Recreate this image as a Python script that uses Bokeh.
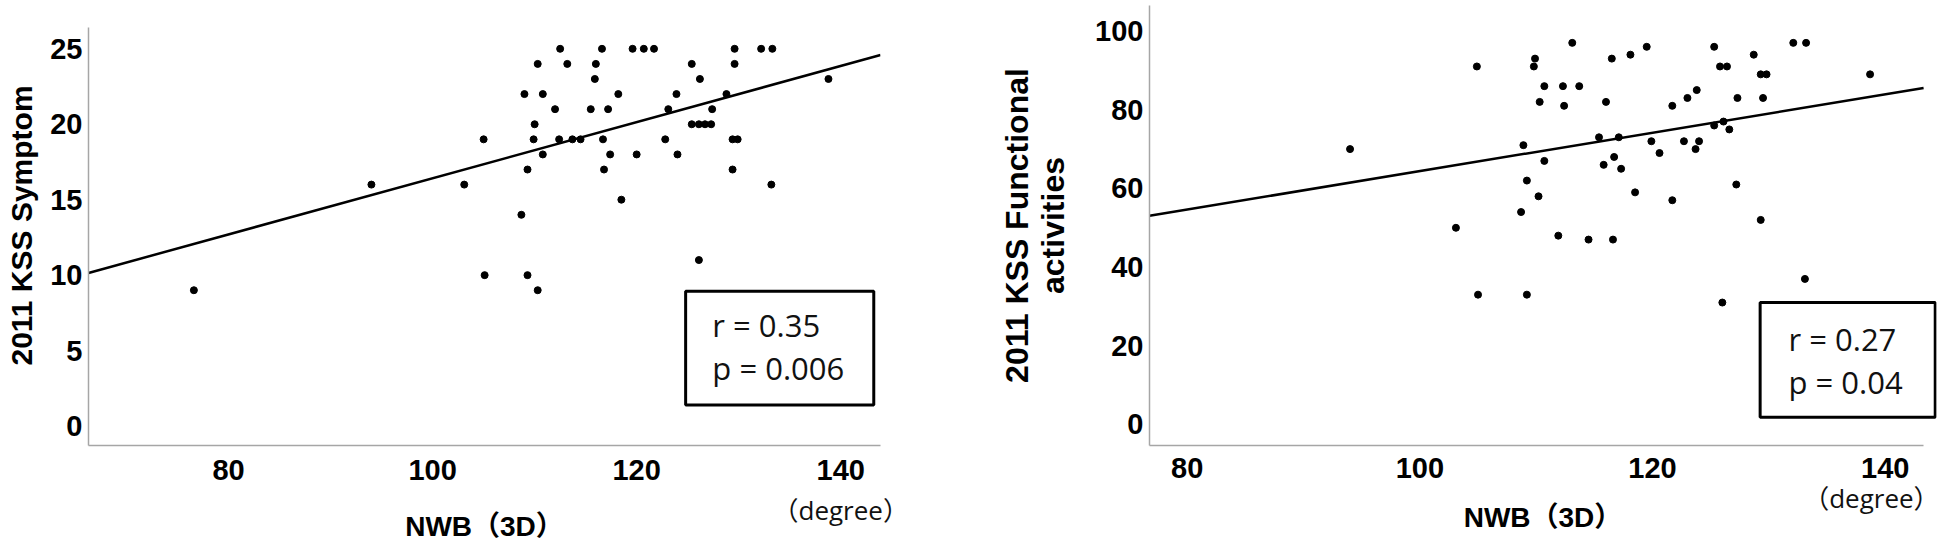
from bokeh.plotting import figure
from bokeh.layouts import row
from bokeh.models import FixedTicker, BoxAnnotation, Label, Range1d, LinearAxis
from bokeh.embed import file_html
from bokeh.resources import INLINE

# ---------------- data: left panel (2011 KSS Symptom) ----------------
nwb_sym = [112.5, 116.6, 119.6, 120.7, 121.7, 129.6, 132.2, 133.3,
           110.3, 113.2, 116.0, 125.4, 129.6,
           115.9, 126.2, 138.8,
           109.0, 110.8, 118.2, 123.9, 128.8,
           112.0, 115.5, 117.2, 123.1, 127.4,
           110.0, 125.4, 126.1, 126.7, 127.3,
           105.0, 109.9, 112.4, 113.7, 114.5, 116.7, 122.8, 129.4, 129.9,
           110.8, 117.4, 120.0, 124.0,
           109.3, 116.8, 129.4,
           94.0, 103.1, 133.2,
           118.5,
           108.7,
           126.1,
           105.1, 109.3,
           76.6, 110.3]
kss_symptom = [25, 25, 25, 25, 25, 25, 25, 25,
               24, 24, 24, 24, 24,
               23, 23, 23,
               22, 22, 22, 22, 22,
               21, 21, 21, 21, 21,
               20, 20, 20, 20, 20,
               19, 19, 19, 19, 19, 19, 19, 19, 19,
               18, 18, 18, 18,
               17, 17, 17,
               16, 16, 16,
               15,
               14,
               11,
               10, 10,
               9, 9]

# ---------------- data: right panel (2011 KSS Functional activities) ----------------
nwb_func = [94.0, 103.1, 104.9, 105.0, 108.9, 108.7, 109.2, 109.2, 109.9, 109.8,
            110.2, 110.3, 110.7, 110.7, 111.9, 112.3, 112.4, 113.1, 113.7, 114.5,
            115.4, 115.8, 116.0, 116.5, 116.6, 116.7, 117.1, 117.3, 118.1, 118.5,
            119.5, 119.9, 120.6, 121.7, 121.7, 122.7, 123.0, 123.7, 123.8, 124.0,
            125.3, 125.3, 125.8, 126.4, 126.0, 126.1, 126.6, 127.2, 127.3, 128.7,
            129.3, 129.3, 129.8, 129.5, 132.1, 133.2, 133.1, 138.7]
kss_func = [70, 50, 91, 33, 71, 54, 62, 33, 93, 91,
            58, 82, 86, 67, 48, 86, 81, 97, 86, 47,
            73, 66, 82, 93, 47, 68, 73, 65, 94, 59,
            96, 72, 69, 81, 57, 72, 83, 70, 85, 72,
            96, 76, 91, 91, 31, 77, 75, 61, 83, 94,
            52, 89, 89, 83, 97, 97, 37, 89]

# regression lines (slope, intercept)
fit_sym = (0.186, -2.18)
fit_func = (0.4883, 15.57)

stats_sym = ["r = 0.35", "p = 0.006"]
stats_func = ["r = 0.27", "p = 0.04"]

x_ticks = [80, 100, 120, 140]
y_ticks_sym = [0, 5, 10, 15, 20, 25]
y_ticks_func = [0, 20, 40, 60, 80, 100]

x_title = "NWB（3D）"
unit_label = "（degree）"

BOLD_FONT = "Liberation Sans, Noto Sans CJK JP"
TEXT_FONT = "Open Sans, Noto Sans CJK JP"
AXIS_COLOR = "#a6a6a6"


def style_axis(ax):
    ax.axis_line_color = AXIS_COLOR
    ax.axis_line_width = 1.5
    ax.major_tick_line_color = None
    ax.minor_tick_line_color = None
    ax.major_tick_out = 0
    ax.major_tick_in = 0
    ax.major_label_text_font = BOLD_FONT
    ax.major_label_text_font_style = "bold"
    ax.major_label_text_font_size = "29px"
    ax.major_label_text_color = "black"
    ax.axis_label_text_font = BOLD_FONT
    ax.axis_label_text_font_style = "bold"
    ax.axis_label_text_color = "black"


def base_fig(width, height, xr, yr, mbl, mbr, mbt, mbb):
    p = figure(width=width, height=height, x_range=Range1d(*xr), y_range=Range1d(*yr),
               output_backend="svg", toolbar_location=None,
               min_border_left=mbl, min_border_right=mbr,
               min_border_top=mbt, min_border_bottom=mbb)
    p.xgrid.visible = False
    p.ygrid.visible = False
    p.outline_line_color = None
    p.background_fill_color = "white"
    p.border_fill_color = "white"
    style_axis(p.below[0])
    style_axis(p.left[0])
    return p


def unit_axis(bounds, label_standoff, title_standoff):
    ax = LinearAxis(ticker=FixedTicker(ticks=[140]),
                    major_label_overrides={140: unit_label},
                    bounds=bounds)
    ax.axis_line_color = None
    ax.major_tick_line_color = None
    ax.minor_tick_line_color = None
    ax.major_tick_out = 0
    ax.major_tick_in = 0
    ax.major_label_text_font = TEXT_FONT
    ax.major_label_text_font_size = "26px"
    ax.major_label_text_color = "#111111"
    ax.major_label_standoff = label_standoff
    ax.axis_label = x_title
    ax.axis_label_text_font = BOLD_FONT
    ax.axis_label_text_font_style = "bold"
    ax.axis_label_text_font_size = "28px"
    ax.axis_label_text_color = "black"
    ax.axis_label_standoff = title_standoff
    return ax


def stats_box(p, left, right, top, bottom, tx, ty1, ty2, lines):
    p.add_layout(BoxAnnotation(left=left, right=right, top=top, bottom=bottom,
                               fill_color="white", fill_alpha=1.0,
                               line_color="black", line_alpha=1.0, line_width=3))
    for ty, txt in zip((ty1, ty2), lines):
        p.add_layout(Label(x=tx, y=ty, text=txt, text_font=TEXT_FONT,
                           text_font_size="31px", text_baseline="alphabetic",
                           text_color="#111111"))


# ---------------- left figure ----------------
xr1 = (66.27, 143.9)
yr1 = (-1.29, 27.87)
p1 = base_fig(938, 544, xr1, yr1, 88, 58, 5, 99)
xa1 = p1.below[0]
xa1.ticker = FixedTicker(ticks=x_ticks)
xa1.major_label_standoff = 14
ya1 = p1.left[0]
ya1.ticker = FixedTicker(ticks=y_ticks_sym)
ya1.bounds = (yr1[0], 26.38)
ya1.axis_label = "2011 KSS Symptom"
ya1.axis_label_text_font_size = "30px"
ya1.major_label_standoff = 6
ya1.axis_label_standoff = 9
p1.add_layout(unit_axis(xr1, 9, -20), "below")

p1.line([xr1[0], xr1[1]], [fit_sym[0] * xr1[0] + fit_sym[1], fit_sym[0] * xr1[1] + fit_sym[1]],
        line_color="black", line_width=2.5)
p1.scatter(nwb_sym, kss_symptom, size=7, color="black")
stats_box(p1, 124.8, 143.24, 8.94, 1.40, 127.42, 6.69, 3.82, stats_sym)

# ---------------- right figure ----------------
xr2_axis = (76.76, 143.3)
p2 = base_fig(1008, 544, (76.76, 144.41), (-5.34, 106.5), 211, 10, 5, 99)
xa2 = p2.below[0]
xa2.ticker = FixedTicker(ticks=x_ticks)
xa2.bounds = xr2_axis
xa2.major_label_standoff = 12
ya2 = p2.left[0]
ya2.ticker = FixedTicker(ticks=y_ticks_func)
ya2.axis_label = "2011 KSS Functional\nactivities"
ya2.axis_label_text_font_size = "32px"
ya2.axis_label_text_line_height = 1.0
ya2.major_label_standoff = 6
ya2.axis_label_standoff = 21
p2.add_layout(unit_axis(xr2_axis, -1, -17), "below")

p2.line([xr2_axis[0], xr2_axis[1]],
        [fit_func[0] * xr2_axis[0] + fit_func[1], fit_func[0] * xr2_axis[1] + fit_func[1]],
        line_color="black", line_width=2.5)
p2.scatter(nwb_func, kss_func, size=7, color="black")
stats_box(p2, 129.25, 144.30, 31.01, 1.86, 131.69, 21.68, 10.68, stats_func)

layout = row(p1, p2)
open("out.html", "w").write(file_html(layout, INLINE))
